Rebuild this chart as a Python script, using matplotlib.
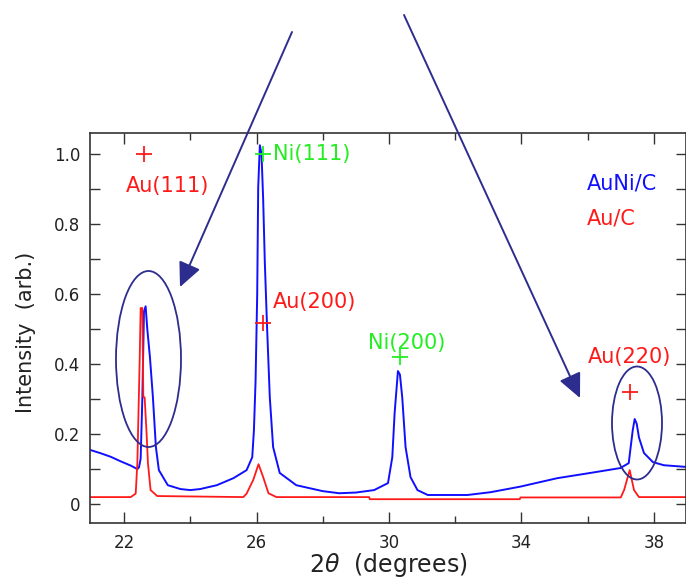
import numpy as np
import matplotlib
matplotlib.use("Agg")
import matplotlib.pyplot as plt
from matplotlib.patches import Ellipse, FancyArrowPatch
from matplotlib.ticker import MultipleLocator, FixedLocator

# AuNi/C pattern
auni_x = [21.0, 21.3, 21.6, 21.9, 22.2, 22.4, 22.45, 22.5, 22.55, 22.6, 22.65,
          22.7, 22.78, 22.87, 22.96, 23.05, 23.32, 23.7, 24.0, 24.3, 24.8, 25.3,
          25.7, 25.87, 25.92, 25.97, 26.02, 26.05, 26.1, 26.15, 26.2, 26.25,
          26.32, 26.4, 26.5, 26.7, 27.2, 28.0, 28.5, 29.0, 29.55, 29.97, 30.1,
          30.17, 30.27, 30.33, 30.4, 30.5, 30.65, 30.86, 31.17, 32.37, 33.07,
          33.97, 35.08, 36.08, 36.99, 37.24, 37.36, 37.42, 37.48, 37.55, 37.7,
          37.97, 38.3, 39.0]
auni_y = [0.154, 0.145, 0.135, 0.122, 0.110, 0.100, 0.105, 0.13, 0.30, 0.55, 0.565,
          0.50, 0.42, 0.305, 0.163, 0.097, 0.054, 0.043, 0.040, 0.043, 0.054, 0.074,
          0.097, 0.134, 0.21, 0.35, 0.60, 0.905, 1.025, 1.0, 0.87, 0.69,
          0.50, 0.305, 0.163, 0.089, 0.054, 0.037, 0.031, 0.033, 0.040, 0.060, 0.134,
          0.26, 0.38, 0.37, 0.305, 0.163, 0.077, 0.040, 0.026, 0.026, 0.034,
          0.050, 0.074, 0.089, 0.103, 0.117, 0.21, 0.243, 0.23, 0.19, 0.146,
          0.12, 0.111, 0.106]

# Au/C pattern
au_x = [21.0, 22.2, 22.35, 22.4, 22.47, 22.5, 22.55, 22.58, 22.62, 22.68, 22.72,
        22.8, 23.0, 25.6, 25.7, 25.9, 26.06, 26.2, 26.36, 26.6, 29.4, 29.42,
        33.95, 33.97, 37.0, 37.1, 37.27, 37.4, 37.55, 39.0]
au_y = [0.02, 0.02, 0.03, 0.117, 0.41, 0.56, 0.56, 0.305, 0.305, 0.20, 0.117,
        0.04, 0.023, 0.02, 0.03, 0.069, 0.114, 0.077, 0.031, 0.02, 0.02, 0.014,
        0.014, 0.019, 0.019, 0.04, 0.097, 0.04, 0.02, 0.02]

# reference peak markers
peak_names = ["Au(111)", "Ni(111)", "Au(200)", "Ni(200)", "Au(220)"]
peak_x = [22.6, 26.2, 26.2, 30.33, 37.27]
peak_y = [1.0, 1.0, 0.517, 0.42, 0.32]
peak_phase = ["Au", "Ni", "Au", "Ni", "Au"]

x_major = [22, 26, 30, 34, 38]
y_major = [0, 0.2, 0.4, 0.6, 0.8, 1.0]
y_labels = ["0", "0.2", "0.4", "0.6", "0.8", "1.0"]

BLUE = "#1010ff"
RED = "#ff1a1a"
GREEN = "#22ee22"
NAVY = "#2d2d8f"
AXC = "#333333"

W, H = 686, 581
fig = plt.figure(figsize=(W / 100, H / 100), dpi=100)
ax = fig.add_axes([90 / W, 1 - 523 / H, 596 / W, 390 / H])

ax.plot(auni_x, auni_y, color=BLUE, lw=1.4)
ax.plot(au_x, au_y, color=RED, lw=1.3)

ax.set_xlim(20.97, 38.97)
ax.set_ylim(-0.054, 1.06)

ax.xaxis.set_major_locator(FixedLocator(x_major))
ax.xaxis.set_minor_locator(MultipleLocator(2))
ax.set_yticks(y_major)
ax.set_yticklabels(y_labels)
ax.yaxis.set_minor_locator(MultipleLocator(0.1))
ax.tick_params(which="both", direction="in", top=True, right=True,
               color=AXC, width=1.0, labelcolor="#222222", labelsize=12)
ax.tick_params(axis="x", which="major", length=8, pad=8)
ax.tick_params(axis="x", which="minor", length=5)
ax.tick_params(axis="y", which="both", length=7, pad=7)
for s in ax.spines.values():
    s.set_color(AXC)
    s.set_linewidth(1.2)

ax.set_xlabel(r"2$\theta$  (degrees)", fontsize=17, color="#222222")
ax.set_ylabel("Intensity  (arb.)", fontsize=15, color="#222222")
ax.xaxis.set_label_coords(0.5, -0.072)
ax.yaxis.set_label_coords(-0.09, 0.49)

# peak markers and names
colors = {"Au": RED, "Ni": GREEN}
text_pos = [(23.3, 0.91, "center"), (26.5, 1.0, "left"), (26.5, 0.577, "left"),
            (30.53, 0.46, "center"), (36.0, 0.42, "left")]
for name, px, py, ph, (tx, ty, ha) in zip(peak_names, peak_x, peak_y, peak_phase, text_pos):
    c = colors[ph]
    ax.plot(px, py, marker="+", ms=12, mew=1.3, color=c, ls="none")
    ax.text(tx, ty, name, color=c, fontsize=15, ha=ha, va="center")

ax.text(35.97, 0.917, "AuNi/C", color=BLUE, fontsize=15, va="center")
ax.text(35.97, 0.817, "Au/C", color=RED, fontsize=15, va="center")

# ellipses and arrows in figure pixels
def fx(px):
    return px / W

def fy(py):
    return 1 - py / H

for cx, cy, w, h in [(148.5, 359, 65, 176), (637, 423, 50, 113)]:
    e = Ellipse((fx(cx), fy(cy)), w / W, h / H, transform=fig.transFigure,
                fill=False, edgecolor=NAVY, lw=1.3)
    fig.add_artist(e)

for (x0, y0), (x1, y1) in [((292, 32), (180, 287)), ((404, 15), (580, 398))]:
    a = FancyArrowPatch((fx(x0), fy(y0)), (fx(x1), fy(y1)), transform=fig.transFigure,
                        arrowstyle="-|>,head_length=0.75,head_width=0.35",
                        mutation_scale=20, color=NAVY, lw=1.4, shrinkA=0, shrinkB=0)
    fig.add_artist(a)

fig.savefig("out.png", dpi=100)
